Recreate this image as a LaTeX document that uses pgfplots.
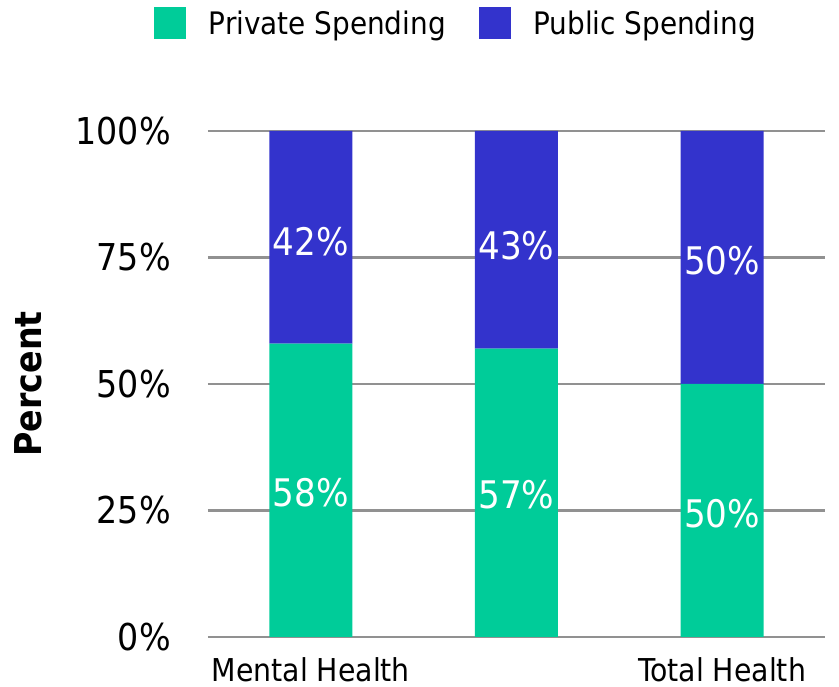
\documentclass[border=0pt]{standalone}
\usepackage{pgfplots}
\pgfplotsset{compat=1.18}
\usepackage{fontspec}
\setmainfont{DejaVu Sans Condensed}
\definecolor{privc}{RGB}{0,204,153}
\definecolor{pubc}{RGB}{51,51,204}
\definecolor{gridc}{RGB}{145,145,145}
\begin{document}
\begin{tikzpicture}
\path[use as bounding box] (-208pt,-50pt) rectangle (631pt,637pt);
\begin{axis}[
  at={(0pt,0pt)}, anchor=south west,
  width=617pt, height=506pt, scale only axis,
  xmin=-0.5, xmax=2.5, ymin=0, ymax=100,
  ybar stacked, bar width=83pt,
  axis line style={draw=none},
  major tick length=0pt,
  ymajorgrids, grid style={gridc, line width=2.7pt},
  ytick={0,25,50,75,100},
  yticklabels={0\%,25\%,50\%,75\%,100\%},
  xtick={0,1,2},
  xticklabels={Mental Health,,Total Health},
  yticklabel style={font=\fontsize{37}{40}\selectfont, inner sep=0pt, xshift=-37pt},
  xticklabel style={font=\fontsize{31.5}{36}\selectfont, inner sep=0pt, yshift=-20.5pt},
  ylabel={\bfseries Percent},
  ylabel style={font=\fontsize{37}{40}\selectfont, at={(axis description cs:-0.291,0.5)}, anchor=center, rotate=0},
  legend style={at={(axis description cs:0.402,1.2134)}, anchor=center, draw=none, fill=none,
    font=\fontsize{31}{36}\selectfont, inner sep=0pt,
    /tikz/every odd column/.append style={column sep=20.5pt},
    /tikz/every even column/.append style={column sep=31pt}},
  legend columns=2,
  legend cell align=left,
  sq/.style={legend image code/.code={\fill[##1] (0pt,-16pt) rectangle (32pt,16pt);}},
]
\addplot[fill=privc, draw=none, sq] coordinates {(0,58) (1,57) (2,50)};
\addlegendentry{Private Spending}
\addplot[fill=pubc, draw=none, sq] coordinates {(0,42) (1,43) (2,50)};
\addlegendentry{Public Spending}
\end{axis}
\begin{axis}[
  at={(0pt,0pt)}, anchor=south west,
  width=617pt, height=506pt, scale only axis,
  xmin=-0.5, xmax=2.5, ymin=0, ymax=100,
  hide axis,
]
\addplot[only marks, mark=*, mark size=0pt, mark options={draw=none, fill=none},
  nodes near coords, point meta=explicit symbolic,
  nodes near coords style={anchor=center, text=white, font=\fontsize{38}{40}\selectfont}]
  coordinates {(0,28.6) [58\%] (1,28.2) [57\%] (2,24.4) [50\%]
               (0,78.1) [42\%] (1,77.4) [43\%] (2,74.4) [50\%]};
\end{axis}
\end{tikzpicture}
\end{document}
